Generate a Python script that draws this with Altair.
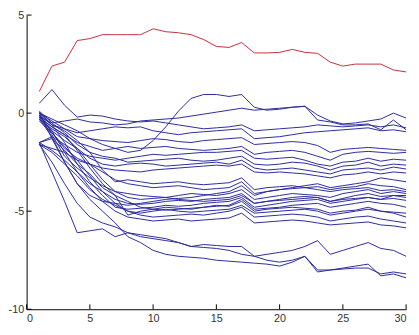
import altair as alt
import pandas as pd

steps = list(range(1, 31))

red_series = [1.1, 2.4, 2.6, 3.7, 3.8, 4.0, 4.0, 4.0, 4.0, 4.3, 4.15, 4.1, 4.0, 3.75, 3.4,
              3.35, 3.6, 3.07, 3.07, 3.1, 3.25, 3.1, 3.05, 2.6, 2.4, 2.5, 2.5, 2.5, 2.2, 2.1]

blue_series = [
    [0.0, -0.3, -0.6, -0.9, -1.3, -1.6, -1.8, -2.0, -1.9, -1.4, -0.7, 0.1, 0.75, 0.95, 0.95,
     0.85, 0.95, 0.3, 0.15, 0.2, 0.3, 0.35, -0.1, -0.4, -0.55, -0.5, -0.4, -0.3, 0.0, -0.25],
    [-0.2, -0.5, -0.4, -0.3, -0.45, -0.5, -0.6, -0.55, -0.4, -0.35, -0.3, -0.25, -0.15, -0.05, 0.05,
     0.15, 0.25, 0.15, 0.2, 0.25, 0.3, 0.35, -0.35, -0.45, -0.6, -0.6, -0.55, -0.85, -0.35, -0.85],
    [0.5, 1.2, 0.4, -0.2, -0.1, -0.15, -0.3, -0.4, -0.45, -0.4, -0.5, -0.6, -0.7, -0.8, -0.75,
     -0.7, -0.6, -0.9, -0.85, -0.8, -0.75, -0.7, -0.6, -0.65, -0.7, -0.65, -0.6, -0.7, -0.6, -0.75],
    [-0.1, -0.6, -0.8, -1.0, -0.9, -0.8, -0.7, -0.75, -0.7, -0.9, -1.0, -1.1, -1.0, -0.95, -0.9,
     -0.85, -0.8, -1.3, -1.25, -1.2, -1.1, -1.0, -0.95, -0.9, -0.85, -0.8, -0.75, -0.9, -0.85, -0.95],
    [0.0, -0.4, -0.8, -1.2, -1.3, -1.4, -1.45, -1.5, -1.4, -1.3, -1.35, -1.45, -1.5, -1.4, -1.35,
     -1.3, -1.25, -1.6, -1.55, -1.5, -1.45, -1.5, -1.65, -2.0, -1.85, -1.8, -1.75, -1.8, -1.85, -1.9],
    [-0.2, -0.7, -1.1, -1.5, -1.7, -1.9, -1.8, -1.7, -1.8, -1.75, -1.7, -1.8, -1.85, -1.9, -1.85,
     -1.8, -1.7, -2.1, -2.0, -1.95, -1.9, -2.0, -2.2, -2.4, -2.1, -2.0, -1.95, -2.0, -2.05, -2.0],
    [-1.5, -1.2, -1.6, -2.0, -2.2, -2.3, -2.4, -2.3, -2.2, -2.1, -2.15, -2.1, -2.05, -2.0, -2.0,
     -1.95, -1.9, -2.3, -2.35, -2.3, -2.25, -2.4, -2.6, -2.7, -2.5, -2.45, -2.3, -2.45, -2.35, -2.4],
    [0.1, -0.5, -1.0, -1.6, -2.0, -2.2, -2.3, -2.5, -2.45, -2.4, -2.35, -2.3, -2.4, -2.45, -2.4,
     -2.3, -2.2, -2.6, -2.65, -2.6, -2.5, -2.55, -2.7, -2.9, -2.7, -2.65, -2.5, -2.7, -2.6, -2.65],
    [-0.3, -0.9, -1.4, -1.8, -2.3, -2.6, -2.7, -2.6, -2.55, -2.6, -2.7, -2.65, -2.6, -2.55, -2.5,
     -2.6, -2.4, -2.8, -2.9, -2.85, -2.8, -2.9, -3.0, -3.1, -2.9, -2.85, -2.8, -2.9, -2.75, -2.85],
    [-1.6, -1.8, -2.0, -2.4, -2.6, -2.8, -2.9, -2.95, -3.0, -2.9, -2.85, -2.8, -2.75, -2.7, -2.65,
     -2.7, -2.6, -3.0, -3.05, -3.0, -3.05, -3.1, -3.2, -3.3, -3.15, -3.1, -3.0, -3.1, -3.0, -3.05],
    [0.0, -1.3, -2.5, -3.6, -4.2, -4.5, -4.6, -4.7, -4.6, -4.5, -4.4, -4.35, -4.3, -4.2, -4.1,
     -4.0, -3.7, -4.2, -4.0, -3.9, -3.8, -3.7, -3.6, -3.8, -3.7, -3.6, -3.5, -3.3, -3.4, -3.5],
    [-0.1, -1.0, -1.8, -2.3, -2.6, -3.0, -3.4, -3.6, -3.7, -3.8, -3.75, -3.7, -3.8, -3.9, -3.85,
     -3.8, -3.5, -4.1, -4.0, -3.9, -3.85, -3.8, -3.75, -3.9, -3.8, -3.75, -3.6, -3.7, -3.75, -3.9],
    [-0.3, -0.8, -1.2, -1.8, -2.6, -3.4, -4.0, -4.3, -4.4, -4.35, -4.3, -4.2, -4.1, -4.15, -4.2,
     -4.1, -3.9, -4.4, -4.3, -4.2, -4.1, -4.15, -4.2, -4.3, -4.1, -4.0, -3.9, -4.1, -4.0, -4.1],
    [-1.5, -1.9, -2.4, -3.0, -3.6, -4.0, -4.4, -4.6, -4.65, -4.6, -4.5, -4.45, -4.5, -4.4, -4.35,
     -4.3, -4.1, -4.6, -4.5, -4.4, -4.3, -4.25, -4.3, -4.5, -4.35, -4.2, -4.1, -4.25, -4.2, -4.3],
    [0.05, -0.6, -1.5, -2.6, -3.5, -4.2, -4.8, -4.9, -4.85, -4.8, -4.7, -4.75, -4.7, -4.6, -4.55,
     -4.5, -4.3, -4.8, -4.7, -4.6, -4.5, -4.45, -4.4, -4.6, -4.5, -4.4, -4.3, -4.4, -4.35, -4.45],
    [-0.2, -0.7, -1.1, -1.9, -2.8, -3.6, -4.2, -4.5, -4.8, -4.9, -4.95, -4.9, -4.85, -4.8, -4.75,
     -4.7, -4.4, -4.9, -4.85, -4.8, -4.7, -4.65, -4.6, -4.8, -4.7, -4.6, -4.5, -4.6, -4.65, -4.8],
    [-1.6, -2.0, -2.6, -3.2, -3.9, -4.4, -4.7, -5.0, -5.1, -5.0, -4.9, -5.0, -5.05, -5.0, -4.95,
     -4.9, -4.7, -5.1, -5.05, -5.0, -4.95, -4.9, -5.0, -5.2, -5.1, -5.0, -4.9, -5.0, -5.05, -5.1],
    [-0.4, -1.0, -1.7, -2.4, -3.2, -4.0, -4.6, -5.0, -5.2, -5.3, -5.25, -5.2, -5.15, -5.2, -5.1,
     -5.0, -4.8, -5.3, -5.25, -5.2, -5.15, -5.2, -5.3, -5.5, -5.4, -5.3, -5.25, -5.4, -5.5, -5.6],
    [-0.1, -0.9, -2.0, -3.0, -3.8, -4.5, -5.0, -5.3, -5.4, -5.5, -5.45, -5.4, -5.5, -5.45, -5.4,
     -5.35, -5.1, -5.6, -5.55, -5.5, -5.45, -5.5, -5.6, -5.7, -5.65, -5.6, -5.55, -5.7, -5.75, -5.85],
    [-0.2, -1.1, -2.2, -2.8, -3.3, -3.7, -4.0, -4.1, -4.2, -4.25, -4.3, -4.4, -4.45, -4.5, -4.45,
     -4.4, -4.2, -4.6, -4.5, -4.45, -4.4, -4.35, -4.3, -4.5, -4.4, -4.35, -4.3, -4.4, -4.2, -4.2],
    [0.0, -0.6, -0.9, -1.4, -2.0, -2.9, -3.5, -3.4, -3.5, -3.6, -3.55, -3.5, -3.6, -3.65, -3.6,
     -3.55, -3.3, -3.9, -3.8, -3.75, -3.7, -3.8, -3.9, -4.0, -3.9, -3.85, -3.8, -3.95, -3.9, -4.0],
    [-1.5, -1.3, -1.9, -2.6, -3.1, -3.8, -4.2, -5.2, -5.0, -4.9, -4.8, -4.85, -4.9, -4.8, -4.7,
     -4.75, -4.5, -5.0, -4.9, -4.85, -4.8, -4.85, -4.9, -5.1, -5.0, -4.95, -4.8, -5.0, -5.1, -5.3],
    [-1.5, -3.0, -4.5, -6.1, -6.0, -5.9, -6.3, -6.1, -6.3, -6.4, -6.5, -6.6, -6.8, -6.7, -6.75,
     -6.8, -6.8, -7.3, -7.2, -7.1, -7.0, -6.8, -6.5, -7.2, -7.0, -6.8, -6.6, -6.9, -7.0, -7.3],
    [-1.6, -2.5, -3.6, -4.6, -5.3, -5.6, -5.8, -6.1, -6.2, -6.3, -6.4, -6.6, -6.8, -6.85, -6.9,
     -7.0, -7.2, -7.3, -7.5, -7.6, -7.5, -7.3, -8.0, -8.0, -7.9, -7.8, -7.7, -8.3, -8.2, -8.4],
    [-0.3, -1.2, -2.5, -3.6, -4.4, -5.0, -5.6, -6.3, -6.6, -7.0, -7.2, -7.3, -7.35, -7.4, -7.5,
     -7.55, -7.6, -7.65, -7.7, -7.8, -7.6, -7.3, -8.1, -8.0, -7.95, -7.9, -7.9, -8.2, -8.1, -8.2],
]

x_ticks = [0, 5, 10, 15, 20, 25, 30]
y_ticks = [-10, -5, 0, 5]

rows = []
for i, s in enumerate(blue_series):
    for xi, v in zip(steps, s):
        rows.append({"step": xi, "value": v, "series": f"b{i:02d}"})
blue_df = pd.DataFrame(rows)
red_df = pd.DataFrame({"step": steps, "value": red_series})

xs = alt.Scale(domain=[0, 30], nice=False, zero=False)
ys = alt.Scale(domain=[-10, 5], nice=False, zero=False)

x_axis = alt.Axis(values=x_ticks, title=None, labelExpr="'' + datum.value",
                  labelPadding=4)
y_axis = alt.Axis(values=y_ticks, title=None, labelExpr="'' + datum.value",
                  labelPadding=3)

blue = alt.Chart(blue_df).mark_line(strokeWidth=1, color="#2a2aa0").encode(
    x=alt.X("step:Q", scale=xs, axis=x_axis),
    y=alt.Y("value:Q", scale=ys, axis=y_axis),
    detail="series:N",
)

red = alt.Chart(red_df).mark_line(strokeWidth=1, color="#c4303a").encode(
    x=alt.X("step:Q", scale=xs),
    y=alt.Y("value:Q", scale=ys),
)

xt = alt.Chart(pd.DataFrame({"t": x_ticks})).mark_rule(color="#000", strokeWidth=1).encode(
    x=alt.X("t:Q", scale=xs),
    y=alt.value(300),
    y2=alt.value(295),
)

yt = alt.Chart(pd.DataFrame({"t": y_ticks})).mark_rule(color="#000", strokeWidth=1).encode(
    y=alt.Y("t:Q", scale=ys),
    x=alt.value(0),
    x2=alt.value(5),
)

chart = alt.layer(red, blue, xt, yt).properties(
    width=387,
    height=300,
    autosize=alt.AutoSizeParams(type="none"),
    padding={"left": 19, "top": 4, "right": 5, "bottom": 20},
    background="white",
).configure_view(stroke=None).configure_axis(
    grid=False,
    ticks=False,
    domainColor="#000",
    domainWidth=1,
    labelFont="Liberation Sans",
    labelFontSize=11,
    labelColor="#333",
)

chart.save("out.html", embed_options={"renderer": "svg", "actions": False})
